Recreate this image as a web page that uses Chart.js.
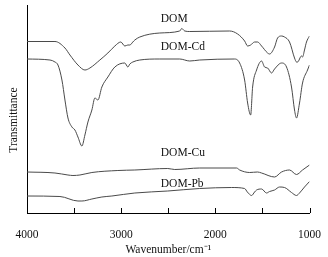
<!DOCTYPE html>
<html>
<head>
<meta charset="utf-8">
<script src="https://cdn.jsdelivr.net/npm/chart.js@4/dist/chart.umd.min.js"></script>
<style>
  html, body { margin: 0; padding: 0; background: #fff; }
  #wrap { width: 328px; height: 257px; }
</style>
</head>
<body>
<div id="wrap"><canvas id="myChart" width="328" height="257"></canvas></div>
<script>
// FTIR spectra, wavenumber (cm-1) vs transmittance (arbitrary, curves offset)
var domWn = [4000,3703,3597,3544,3459,3385,3332,3226,3141,3067,3004,2961,2929,2908,2876,2855,2802,2590,2378,2357,2325,2272,1848,1763,1689,1657,1625,1583,1551,1509,1445,1424,1371,1339,1297,1265,1212,1159,1138,1127,1085,1074,1053,1032,1000];
var domT  = [171.5,171.5,165,158,148,143,145,153,160,167,171,167,168,168,171,173,176,180,182,184.5,182,181.5,182,179,172,167,168,171,171,167,160,159,166,175,177,176,171,155,151,151,157,156,163,171,177];

var cdWn = [4000,3756,3703,3671,3629,3597,3565,3523,3491,3459,3417,3385,3353,3311,3279,3247,3205,3141,3067,2961,2929,2908,2876,2802,2590,2378,2272,2166,1795,1742,1689,1657,1625,1604,1562,1509,1477,1445,1403,1371,1297,1244,1191,1159,1138,1106,1074,1021,1000];
var cdT  = [154,153,151,148,133,113,95,86,83,76,67,78,91,103,115,113,126,136,146,150,146,149,151,153,154,154,152,153,154,150,133,110,98,126,143,152,146,145,140,144,150,146,126,103,95,110,130,143,148];

var cuWn = [4000,3703,3565,3512,3438,3311,3035,2855,2505,2431,2166,1774,1742,1636,1551,1509,1371,1297,1212,1138,1074,1000];
var cuT  = [41,40,38,37.5,38,40.5,42.5,43,44.5,43.5,45,45,43,40.5,41,40,36,41,43,38.5,43,48];

var pbWn = [4000,3650,3459,3417,3311,3205,3099,2855,2505,2166,1827,1689,1660,1615,1583,1562,1509,1456,1424,1371,1318,1265,1191,1138,1106,1053,1000];
var pbT  = [17,16.5,12,12,14,16,17,20,22,24.5,25.5,24.5,21,17.5,21,23,24,20,21.5,23,26,25.5,20.5,17.5,20,26,31.5];

var seriesNames = ['DOM', 'DOM-Cd', 'DOM-Cu', 'DOM-Pb'];
var xTicks = [4000, 3000, 2000, 1000];

// where the curve names sit (wavenumber, transmittance)
var nameAt = [[2579, 194], [2579, 166], [2579, 60], [2579, 29]];

var serif = 'Liberation Serif';

function pts(xs, ys) {
    return xs.map((x, i) => ({x: x, y: ys[i]}));
}

function makeSet(label, xs, ys) {
    return {
        label: label,
        data: pts(xs, ys),
        borderColor: '#4a4a4a',
        borderWidth: 1,
        pointRadius: 0,
        fill: false,
        cubicInterpolationMode: 'monotone'
    };
}

const textPlugin = {
    id: 'textPlugin',
    afterDraw(chart) {
        const c = chart.ctx;
        const xs = chart.scales.x;
        const ys = chart.scales.y;
        c.save();
        // inward tick marks on the x axis
        c.strokeStyle = '#000';
        c.lineWidth = 1;
        xs.ticks.forEach((t) => {
            const px = Math.round(xs.getPixelForValue(t.value)) + 0.5;
            c.beginPath();
            c.moveTo(px, ys.bottom);
            c.lineTo(px, ys.bottom - 5);
            c.stroke();
        });
        c.fillStyle = '#111';
        c.font = '11.5px "' + serif + '"';
        c.textAlign = 'left';
        c.textBaseline = 'middle';
        seriesNames.forEach((n, i) => {
            c.fillText(n, xs.getPixelForValue(nameAt[i][0]), ys.getPixelForValue(nameAt[i][1]));
        });
        // y axis title
        c.translate(13.5, 120);
        c.rotate(-Math.PI / 2);
        c.textAlign = 'center';
        c.fillText('Transmittance', 0, 0);
        c.restore();
    }
};

const ctx = document.getElementById('myChart').getContext('2d');
const myChart = new Chart(ctx, {
    type: 'line',
    data: {
        datasets: [
            makeSet('DOM', domWn, domT),
            makeSet('DOM-Cd', cdWn, cdT),
            makeSet('DOM-Cu', cuWn, cuT),
            makeSet('DOM-Pb', pbWn, pbT)
        ]
    },
    options: {
        responsive: false,
        animation: false,
        events: [],
        layout: { padding: { left: 0, right: 18, top: 5, bottom: 0 } },
        plugins: {
            legend: { display: false },
            tooltip: { enabled: false }
        },
        scales: {
            x: {
                type: 'linear',
                reverse: true,
                min: 1000,
                max: 4000,
                afterFit: (s) => { s.height = 44; },
                border: { display: true, color: '#000', width: 1 },
                grid: { display: false },
                ticks: {
                    stepSize: 500,
                    autoSkip: false,
                    maxRotation: 0,
                    padding: 7,
                    color: '#111',
                    font: { family: serif, size: 11.5 },
                    callback: (v) => xTicks.includes(v) ? String(v) : ''
                },
                title: {
                    display: true,
                    text: 'Wavenumber/cm\u207B\u00B9',
                    color: '#111',
                    font: { family: serif, size: 11.5 },
                    padding: { top: 4, bottom: 0 }
                }
            },
            y: {
                min: 0,
                max: 208,
                afterFit: (s) => { s.width = 27; },
                border: { display: true, color: '#000', width: 1 },
                grid: { display: false },
                ticks: { display: false }
            }
        }
    },
    plugins: [textPlugin]
});
</script>
</body>
</html>
